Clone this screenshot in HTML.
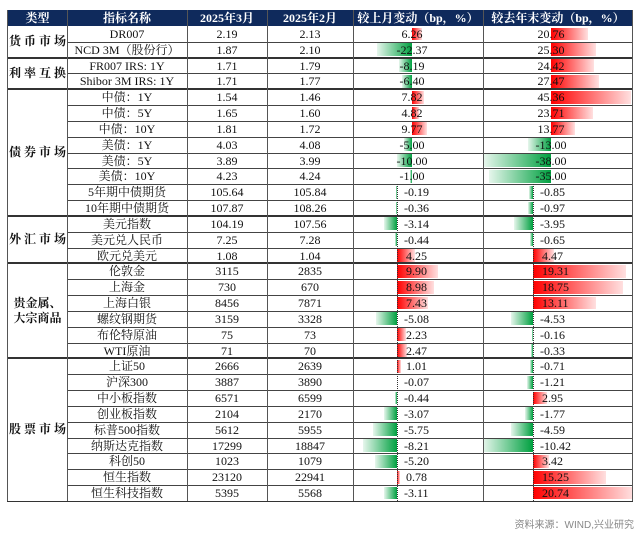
<!DOCTYPE html>
<html><head><meta charset="utf-8"><style>
body{margin:0;width:640px;height:534px;background:#fff;position:relative;overflow:hidden;font-family:"Liberation Serif","Noto Serif CJK SC",serif;}
.a{position:absolute;}
.t{position:absolute;font-size:12px;line-height:16px;color:#111;white-space:nowrap;}
.hd{position:absolute;top:10px;height:16px;background:#0f2a5c;color:#fff;font-weight:bold;font-size:12px;line-height:16px;text-align:center;font-family:"Liberation Serif","Noto Serif CJK SC",serif;}
</style></head><body>
<div id="tbl"></div>
<div class="a" style="right:6px;top:516px;font-size:10px;color:#888;font-family:'Liberation Sans','Noto Sans CJK SC',sans-serif;">资料来源：WIND,兴业研究</div>
<script>
const names=["DR007","NCD 3M（股份行）","FR007 IRS: 1Y","Shibor 3M IRS: 1Y","中债：1Y","中债：5Y","中债：10Y","美债：1Y","美债：5Y","美债：10Y","5年期中债期货","10年期中债期货","美元指数","美元兑人民币","欧元兑美元","伦敦金","上海金","上海白银","螺纹钢期货","布伦特原油","WTI原油","上证50","沪深300","中小板指数","创业板指数","标普500指数","纳斯达克指数","科创50","恒生指数","恒生科技指数"];
const mar=["2.19","1.87","1.71","1.71","1.54","1.65","1.81","4.03","3.89","4.23","105.64","107.87","104.19","7.25","1.08","3115","730","8456","3159","75","71","2666","3887","6571","2104","5612","17299","1023","23120","5395"];
const feb=["2.13","2.10","1.79","1.77","1.46","1.60","1.72","4.08","3.99","4.24","105.84","108.26","107.56","7.28","1.04","2835","670","7871","3328","73","70","2639","3890","6599","2170","5955","18847","1079","22941","5568"];
const mom=[6.26,-22.37,-8.19,-6.40,7.82,4.82,9.77,-5.00,-10.00,-1.00,-0.19,-0.36,-3.14,-0.44,4.25,9.90,8.98,7.43,-5.08,2.23,2.47,1.01,-0.07,-0.44,-3.07,-5.75,-8.21,-5.20,0.78,-3.11];
const ytd=[20.76,25.30,24.42,27.47,45.36,23.71,13.77,-13.00,-38.00,-35.00,-0.85,-0.97,-3.95,-0.65,4.47,19.31,18.75,13.11,-4.53,-0.16,-0.33,-0.71,-1.21,2.95,-1.77,-4.59,-10.42,3.42,15.25,20.74];
const groups=["货 币 市 场","利 率 互 换","债 券 市 场","外 汇 市 场","贵金属、\n大宗商品","股 票 市 场"];
const groupSizes=[2,2,8,3,6,9];
const headers=["类型","指标名称","2025年3月","2025年2月","较上月变动（bp，%）","较去年末变动（bp，%）"];
const cols=[8,67,187,267,353,483,633];
const top0=26,rh=15.83,nBp=10;
const body=document.body;
function div(cls,st,txt){const d=document.createElement('div');d.className=cls;d.style.cssText=st;if(txt!=null)d.textContent=txt;body.appendChild(d);return d;}
for(let i=0;i<6;i++){const h=div('hd',`left:${cols[i]}px;width:${cols[i+1]-cols[i]}px;`,headers[i]);

}
const y=i=>top0+i*rh;
function axisM(i){return i<nBp?412:397;}
function axisY(i){return i<nBp?551:533;}
function scM(i){return i<nBp?1.55:4.15;}
function scY(i){return i<nBp?1.76:4.8;}
function bar(i,v,ax,sc,name){const w=Math.abs(v)*sc;const top=y(i)+1.5,h=rh-3;
const b=div('a',`top:${top}px;height:${h}px;left:${v>=0?ax:ax-w}px;width:${w}px;background:${v>=0?'linear-gradient(to right,#ff0000,#ffe0e0)':'linear-gradient(to left,#00a040,#e6f6ec)'};`);

}
for(let i=0;i<names.length;i++){
 bar(i,mom[i],axisM(i),scM(i),'mom-bar-'+i);
 bar(i,ytd[i],axisY(i),scY(i),'ytd-bar-'+i);
 const n=div('t',`left:${cols[1]}px;width:${cols[2]-cols[1]}px;text-align:center;top:${y(i)}px;`,names[i]);
 
 
 const m=div('t',`left:${cols[2]}px;width:80px;text-align:center;top:${y(i)}px;`,mar[i]);
 
 
 const f=div('t',`left:${cols[3]}px;width:86px;text-align:center;top:${y(i)}px;`,feb[i]);
 
 
 let mt,yt;
 if(i<nBp){mt=div('t',`left:${axisM(i)-40}px;width:80px;text-align:center;top:${y(i)}px;`,mom[i].toFixed(2));
  yt=div('t',`left:${axisY(i)-40}px;width:80px;text-align:center;top:${y(i)}px;`,ytd[i].toFixed(2));}
 else{mt=div('t',`left:${axisM(i)+(mom[i]<0?7:9)}px;top:${y(i)}px;`,mom[i].toFixed(2));
  yt=div('t',`left:${axisY(i)+(ytd[i]<0?7:9)}px;top:${y(i)}px;`,ytd[i].toFixed(2));}
 
 
 
 
 if(i>0){const l=div('a',`left:${cols[1]}px;width:${cols[6]-cols[1]}px;top:${y(i)}px;height:1px;background:#444;`);
 
 }
}
const dm=div('a',`left:397px;top:${y(nBp)}px;height:${y(30)-y(nBp)}px;border-left:1px dotted #333;`);


const dy=div('a',`left:533px;top:${y(nBp)}px;height:${y(30)-y(nBp)}px;border-left:1px dotted #333;`);


let s=0;
for(let g=0;g<groups.length;g++){
 const t0=y(s),t1=y(s+groupSizes[g]);
 const lab=div('t',`left:${cols[0]}px;width:${cols[1]-cols[0]}px;top:${t0}px;height:${t1-t0}px;display:flex;align-items:center;justify-content:center;text-align:center;font-weight:bold;white-space:pre;line-height:15px;`,groups[g]);
 
 
 if(g>0){const l=div('a',`left:${cols[0]}px;width:${cols[6]-cols[0]}px;top:${t0-1}px;height:2px;background:#333;`);
 
 }
 s+=groupSizes[g];
}
for(let c=0;c<7;c++){const v=div('a',`left:${cols[c]-(c==0||c==6?1:0)}px;top:10px;width:1px;height:${y(30)-10}px;background:#555;`);
 
 }
const bt=div('a',`left:${cols[0]-1}px;width:${cols[6]-cols[0]+1}px;top:${y(30)}px;height:1px;background:#333;`);


</script>
</body></html>
